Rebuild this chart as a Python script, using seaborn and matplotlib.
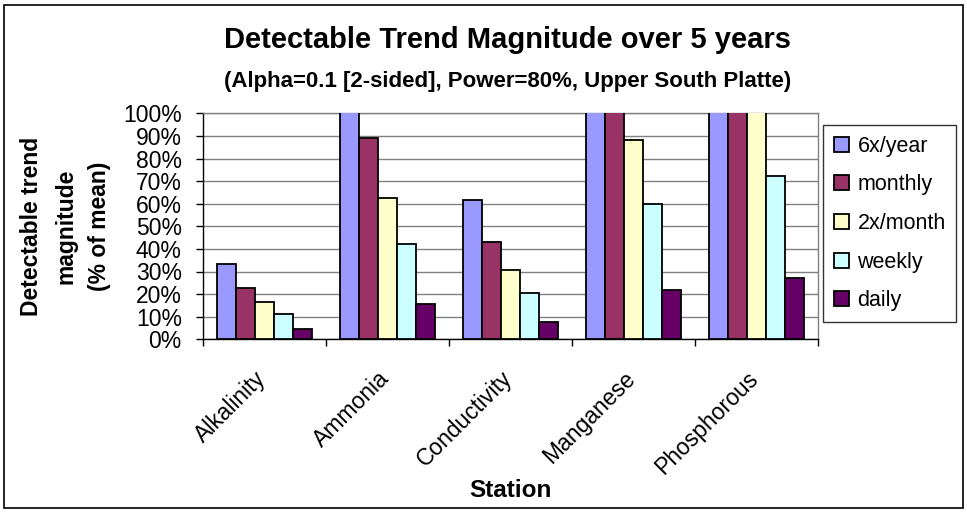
import matplotlib
matplotlib.use("Agg")
import matplotlib.pyplot as plt
import matplotlib.transforms as mtransforms
import seaborn as sns
import pandas as pd
import numpy as np
from matplotlib.patches import Rectangle
from matplotlib.ticker import FuncFormatter, MultipleLocator

stations = ["Alkalinity", "Ammonia", "Conductivity", "Manganese", "Phosphorous"]
frequencies = ["6x/year", "monthly", "2x/month", "weekly", "daily"]
# values as fractions of mean (bars above 1.0 are clipped by the axis, as in the reference)
v_6x_year = [0.335, 1.30, 0.618, 1.40, 1.60]
v_monthly = [0.229, 0.892, 0.431, 1.20, 1.35]
v_2x_month = [0.167, 0.627, 0.307, 0.883, 1.15]
v_weekly = [0.112, 0.423, 0.204, 0.599, 0.724]
v_daily = [0.044, 0.158, 0.078, 0.220, 0.273]
colors = ["#9999FF", "#993366", "#FFFFCC", "#CCFFFF", "#660066"]

series = [v_6x_year, v_monthly, v_2x_month, v_weekly, v_daily]
rows = []
for f, vals in zip(frequencies, series):
    for s, v in zip(stations, vals):
        rows.append({"Station": s, "Frequency": f, "Value": v})
df = pd.DataFrame(rows)

sns.set_style("white")
plt.rcParams["font.family"] = ["Liberation Sans", "DejaVu Sans"]
for k in ["text.color", "axes.labelcolor", "xtick.color", "ytick.color"]:
    plt.rcParams[k] = "black"

W, H = 967, 512
fig = plt.figure(figsize=(W / 100, H / 100), dpi=100)
L, R, T, B = 202.7, 818.0, 113.3, 339.3
ax = fig.add_axes([L / W, 1 - B / H, (R - L) / W, (B - T) / H])

sns.barplot(data=df, x="Station", y="Value", hue="Frequency",
            order=stations, hue_order=frequencies, palette=colors,
            width=5 / 6.5, edgecolor="black", linewidth=1.3, ax=ax,
            errorbar=None, saturation=1, zorder=3)

ax.set_ylim(0, 1.0)
ax.set_xlim(-0.5, len(stations) - 0.5)
ax.yaxis.set_major_locator(MultipleLocator(0.1))
ax.yaxis.set_major_formatter(FuncFormatter(lambda v, p: f"{int(round(v * 100))}%"))
ax.grid(axis="y", color="#808080", linewidth=1.0, zorder=0)
ax.set_axisbelow(True)

for side in ["top", "right"]:
    ax.spines[side].set_color("#808080")
    ax.spines[side].set_linewidth(1.0)
for side in ["left", "bottom"]:
    ax.spines[side].set_color("black")
    ax.spines[side].set_linewidth(1.0)

ax.tick_params(axis="y", direction="out", length=5, width=1, color="black",
               labelsize=16.5, left=True, pad=10)
# category boundary ticks on x
ax.set_xticks(np.arange(-0.5, len(stations), 1.0), minor=False)
ax.set_xticklabels([])
ax.tick_params(axis="x", which="major", direction="out", length=5, width=1,
               color="black", bottom=True)
ax.set_xticks(np.arange(len(stations)), minor=True)
ax.set_xticklabels(stations, minor=True, rotation=45, ha="right", va="top",
                   rotation_mode="anchor", fontsize=16.5)
ax.tick_params(axis="x", which="minor", length=0, pad=20)
shift = mtransforms.ScaledTranslation(-10 / 100, 0, fig.dpi_scale_trans)
for lbl in ax.get_xticklabels(minor=True):
    lbl.set_transform(lbl.get_transform() + shift)

ax.set_xlabel("")
fig.text(510 / W, 1 - 497 / H, "Station", ha="center", va="baseline",
         fontsize=17.5, fontweight="bold")
ax.set_ylabel("Detectable trend\nmagnitude\n(% of mean)", fontsize=16.5,
              fontweight="bold", linespacing=1.6)
ax.yaxis.set_label_coords((111 - L) / (R - L), 0.5)

leg = ax.legend(loc="upper left", bbox_to_anchor=(823 / W, 1 - 125 / H),
                bbox_transform=fig.transFigure, frameon=True,
                fontsize=15.5, handlelength=0.7, handleheight=0.7,
                handletextpad=0.4, labelspacing=0.82, borderpad=0.5,
                fancybox=False, edgecolor="black", borderaxespad=0)
leg.get_frame().set_linewidth(1.0)
for h in leg.legend_handles:
    h.set_edgecolor("black")
    h.set_linewidth(1.3)

fig.text(0.525, 1 - 48.3 / H, "Detectable Trend Magnitude over 5 years",
         ha="center", va="baseline", fontsize=21, fontweight="bold")
fig.text(0.525, 1 - 86.5 / H, "(Alpha=0.1 [2-sided], Power=80%, Upper South Platte)",
         ha="center", va="baseline", fontsize=16, fontweight="bold")

fig.patches.append(Rectangle((4 / W, 4 / H), 959 / W, 503 / H,
                             transform=fig.transFigure, fill=False,
                             edgecolor="black", linewidth=1.2))

fig.savefig("out.png", dpi=100)
